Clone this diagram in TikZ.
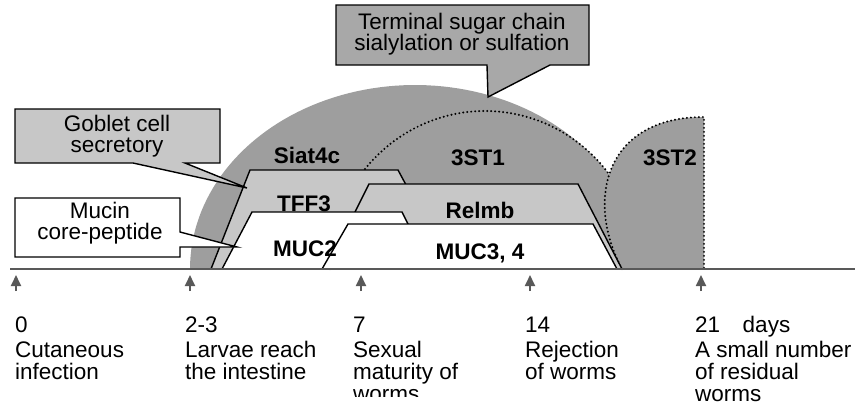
\documentclass[tikz,border=0pt]{standalone}
\usepackage{fontspec}
\setmainfont{Liberation Sans}
\usetikzlibrary{arrows.meta}
\newcommand{\figfont}{\fontsize{22.5}{24}\selectfont}
\definecolor{domegray}{gray}{0.62}
\definecolor{bandgray}{gray}{0.78}
\definecolor{boxgray}{gray}{0.66}
\definecolor{gobgray}{gray}{0.78}
\definecolor{axisgray}{gray}{0.35}
\tikzset{
  lbl/.style={font=\figfont, anchor=base west, inner sep=0pt},
  cbox/.style={font=\fontsize{22.5}{21}\selectfont, align=center, anchor=center, inner sep=0pt},
  blbl/.style={font=\figfont\bfseries, anchor=base, inner sep=0pt},
  band/.style={draw=black, line width=1.4pt, line join=miter},
  callout/.style={draw=black, line width=1.4pt, line join=miter},
  dotline/.style={draw=black, line width=2.2pt, dash pattern=on 0pt off 4pt, line cap=round},
  axisline/.style={draw=axisgray, line width=2.4pt},
  marker/.style={draw=axisgray, line width=1.8pt, -{Triangle[length=11pt,width=10pt]}}
}
\begin{document}
\begin{tikzpicture}[x=1pt,y=-1pt]
\useasboundingbox (0,0) rectangle (864,416);

% --- domes (terminal sugar chain modification)
\fill[domegray] plot[domain=180:0, samples=90] ({415+225*cos(\x)},{269-184*sin(\x)}) -- cycle;
\fill[domegray] plot[domain=180:0, samples=90] ({485+155*cos(\x)},{269-158*sin(\x)}) -- cycle;
\draw[dotline] plot[domain=180:0, samples=120] ({485+155*cos(\x)},{269-158*sin(\x)});
\fill[domegray] (622,269) .. controls (585,200) and (605,117) .. (704,117) -- (704,269) -- cycle;
\draw[dotline] (622,269) .. controls (585,200) and (605,117) .. (704,117) -- (704,269);

% --- goblet cell secretory bands
\draw[band, fill=bandgray] (211,269) -- (250,170) -- (398,170) -- (405,183) -- (412,196) -- (412,269) -- cycle;
\draw[band, fill=bandgray] (355,212) -- (369,184) -- (578,184) -- (622,269) -- (355,269) -- cycle;

% --- mucin core peptide bands
\draw[band, fill=white] (222,269) -- (252,212) -- (402,212) -- (408,224) -- (430,269) -- cycle;
\draw[band, fill=white] (322,269) -- (348,224) -- (593,224) -- (617,269) -- cycle;

% --- labels inside the shapes
\node[blbl] (siat) at (307,163) {Siat4c};
\node[blbl] (tff) at (304,211) {TFF3};
\node[blbl] (muc2) at (305,256) {MUC2};
\node[blbl] (relmb) at (480,218) {Relmb};
\node[blbl] (muc34) at (480,259) {MUC3, 4};
\node[blbl] (st1) at (478,165) {3ST1};
\node[blbl] (st2) at (670,165) {3ST2};

% --- time axis
\coordinate (axL) at (10,269);
\coordinate (axR) at (855,269);
\draw[axisline] (axL) -- (axR);
\foreach \i/\xx in {0/16,1/190,2/361,3/530,4/701}{
  \coordinate (mb\i) at (\xx,291);
  \coordinate (mt\i) at (\xx,275);
  \draw[marker] (mb\i) -- (mt\i);
}

% --- callouts
\draw[callout, fill=boxgray] (336,5) -- (589,5) -- (589,65) -- (550,65) -- (488,97) -- (487,65) -- (336,65) -- cycle;
\node[cbox] (term) at (462,33.7) {Terminal sugar chain\\sialylation or sulfation};

\draw[callout, fill=gobgray] (15,109) -- (220,109) -- (220,163) -- (185,163) -- (247,188) -- (133,163) -- (15,163) -- cycle;
\node[cbox] (gob) at (117,136.6) {Goblet cell\\secretory};

\draw[callout, fill=white] (15,198) -- (180,198) -- (180,232) -- (237,247) -- (180,247) -- (180,257) -- (15,257) -- cycle;
\node[cbox] (mucin) at (100,223.6) {Mucin\\core-peptide};

% --- time labels
\node[lbl] (d0) at (15,332) {0};
\node[lbl] (e0a) at (15,357) {Cutaneous};
\node[lbl] (e0b) at (15,379) {infection};

\node[lbl] (d1) at (185,332) {2-3};
\node[lbl] (e1a) at (185,357) {Larvae reach};
\node[lbl] (e1b) at (185,379) {the intestine};

\node[lbl] (d2) at (353,332) {7};
\node[lbl] (e2a) at (353,357) {Sexual};
\node[lbl] (e2b) at (353,379) {maturity of};
\begin{scope}
  \clip (340,380) rectangle (520,396);
  \node[lbl] (e2c) at (353,401) {worms};
\end{scope}

\node[lbl] (d3) at (525,332) {14};
\node[lbl] (e3a) at (525,357) {Rejection};
\node[lbl] (e3b) at (525,379) {of worms};

\node[lbl] (d4) at (695,332) {21\quad days};
\node[lbl] (e4a) at (695,357) {A small number};
\node[lbl] (e4b) at (695,379) {of residual};
\node[lbl] (e4c) at (695,401) {worms};
\end{tikzpicture}
\end{document}
